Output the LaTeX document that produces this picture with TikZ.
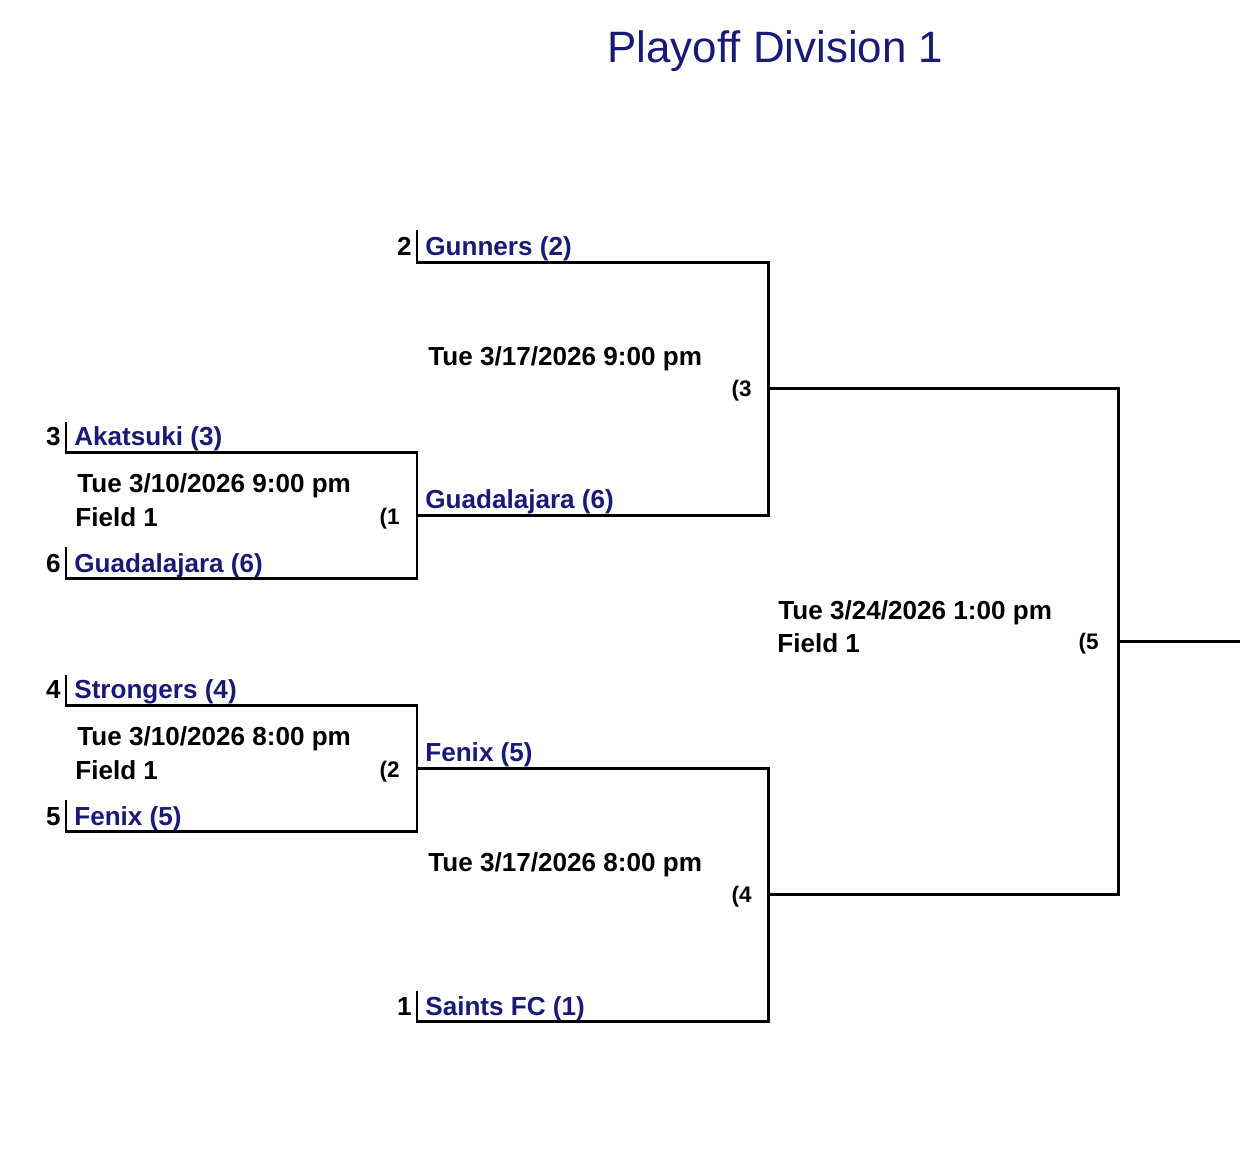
\documentclass[tikz,border=0pt]{standalone}
\usepackage{fontspec}
\setmainfont{Liberation Sans}
\usepackage{xcolor}
\usetikzlibrary{positioning, calc}
\definecolor{teamblue}{RGB}{25,25,120}

\begin{document}
\begin{tikzpicture}[
    x=0.02cm, y=-0.02cm,
    bracket/.style={draw=black, line width=1.7pt},
    team/.style={anchor=base west, inner sep=0pt, text=teamblue, font=\fontsize{14.85}{17}\selectfont\bfseries},
    seed/.style={anchor=base east, inner sep=0pt, font=\fontsize{14.85}{17}\selectfont\bfseries},
    when/.style={anchor=base west, inner sep=0pt, font=\fontsize{14.85}{17}\selectfont\bfseries},
    gameno/.style={anchor=base east, inner sep=0pt, font=\fontsize{12.8}{14}\selectfont\bfseries},
    heading/.style={anchor=base west, inner sep=0pt, text=teamblue, font=\fontsize{25}{30}\selectfont}
]
\useasboundingbox (0,0) rectangle (1240,1160);

\node[heading] (title) at (607,62) {Playoff Division 1};

% corners of the bracket
\coordinate (b3) at (66,422);  \coordinate (t1) at (66,452);
\coordinate (b6) at (66,547);  \coordinate (u1) at (66,578);
\coordinate (b4) at (66,675);  \coordinate (t2) at (66,705);
\coordinate (b5) at (66,800);  \coordinate (u2) at (66,831);
\coordinate (b2) at (417,230); \coordinate (t3) at (417,262);
\coordinate (b1) at (417,991); \coordinate (u4) at (417,1021);
\coordinate (m1) at (417,515); \coordinate (m2) at (417,768);
\coordinate (m3) at (768,388); \coordinate (m4) at (768,894);
\coordinate (m5) at (1118,641); \coordinate (champ) at (1240,641);

% round 1
\draw[bracket] (b3) -- (t1) -| (m1) |- (u1) -- (b6);
\draw[bracket] (b4) -- (t2) -| (m2) |- (u2) -- (b5);
% round 2
\draw[bracket] (b2) -- (t3) -| (m3) |- (m1);
\draw[bracket] (m2) -| (m4) |- (u4) -- (b1);
% final
\draw[bracket] (m3) -| (m5) |- (m4);
\draw[bracket] (m5) -- (champ);

% seeds and teams
\node[seed] (s3) at (61,445) {3};
\node[team] (akatsuki) at (74,445) {Akatsuki (3)};
\node[seed] (s6) at (61,572) {6};
\node[team] (guad1) at (74,572) {Guadalajara (6)};
\node[seed] (s4) at (61,698) {4};
\node[team] (strongers) at (74,698) {Strongers (4)};
\node[seed] (s5) at (61,825) {5};
\node[team] (fenix1) at (74,825) {Fenix (5)};
\node[seed] (s2) at (412,255) {2};
\node[team] (gunners) at (425,255) {Gunners (2)};
\node[team] (guad2) at (425,508) {Guadalajara (6)};
\node[team] (fenix2) at (425,761) {Fenix (5)};
\node[seed] (s1) at (412,1015) {1};
\node[team] (saints) at (425,1015) {Saints FC (1)};

% game 1
\node[when] (date1) at (77,492) {Tue 3/10/2026 9:00 pm};
\node[when] (field1) at (75,526) {Field 1};
\node[gameno] (g1) at (400,524) {(1};
% game 2
\node[when] (date2) at (77,745) {Tue 3/10/2026 8:00 pm};
\node[when] (field2) at (75,779) {Field 1};
\node[gameno] (g2) at (400,777) {(2};
% game 3
\node[when] (date3) at (428,365) {Tue 3/17/2026 9:00 pm};
\node[gameno] (g3) at (752,396) {(3};
% game 4
\node[when] (date4) at (428,871) {Tue 3/17/2026 8:00 pm};
\node[gameno] (g4) at (752,902) {(4};
% game 5
\node[when] (date5) at (778,619) {Tue 3/24/2026 1:00 pm};
\node[when] (field5) at (777,652) {Field 1};
\node[gameno] (g5) at (1099,649) {(5};
\end{tikzpicture}
\end{document}
